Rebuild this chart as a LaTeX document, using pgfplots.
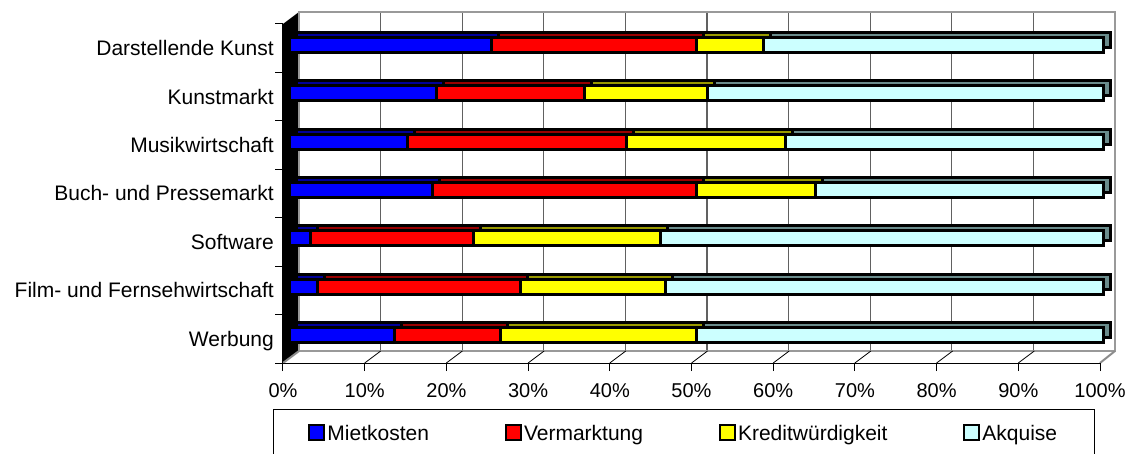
\documentclass[border=0pt]{standalone}
\usepackage{fontspec}
\setmainfont{Liberation Sans}
\usepackage{pgfplots}
\usepackage{pgfplotstable}
\pgfplotsset{compat=1.18}

\definecolor{cMiet}{HTML}{0000FF}
\definecolor{cVerm}{HTML}{FF0000}
\definecolor{cKred}{HTML}{FFFF00}
\definecolor{cAkq}{HTML}{CCFFFF}
% darker tones for the top and side faces
\definecolor{dMiet}{HTML}{000099}
\definecolor{dVerm}{HTML}{990000}
\definecolor{dKred}{HTML}{999900}
\definecolor{dAkq}{HTML}{6A8C8C}

% shares in percent, category 0 = bottom row
\pgfplotstableread{
cat miet verm kred akq
0 13.0 13.0 24.1 49.9
1 3.5 25.0 17.8 53.7
2 2.7 20.0 22.9 54.4
3 17.6 32.4 14.7 35.3
4 14.5 26.9 19.6 39.0
5 18.1 18.2 15.1 48.6
6 24.9 25.1 8.3 41.7
}\anteile

\begin{document}
\begin{tikzpicture}

% black side wall
\fill[black] (283pt,90pt) -- (283pt,429pt) -- (299pt,441pt) -- (299pt,102pt) -- cycle;

% back wall with grid
\begin{axis}[
    at={(299pt,102pt)}, anchor=south west, scale only axis,
    width=816pt, height=339pt,
    xmin=0, xmax=100, ymin=0, ymax=1,
    xtick={0,10,...,100}, xticklabels={}, ytick=\empty,
    major tick length=0pt,
    xmajorgrids, grid style={color=black!62, line width=1.3pt},
    axis line style={color=black!40, line width=2.5pt},
]
\end{axis}

% floor edges
\draw[black!45, line width=2pt] (283pt,90pt) -- (299pt,102pt);
\draw[black!45, line width=2pt] (1100pt,90pt) -- (1115pt,102pt);

% top and side faces of the bars
\begin{axis}[
    at={(296pt,98.5pt)}, anchor=south west, scale only axis,
    width=814pt, height=339pt,
    xmin=0, xmax=100, ymin=-0.5, ymax=6.5,
    xbar stacked, bar width=15pt, clip=false,
    axis line style={draw=none}, ticks=none,
]
\addplot[fill=dMiet, draw=black, line width=3pt] table[x=miet, y=cat] {\anteile};
\addplot[fill=dVerm, draw=black, line width=3pt] table[x=verm, y=cat] {\anteile};
\addplot[fill=dKred, draw=black, line width=3pt] table[x=kred, y=cat] {\anteile};
\addplot[fill=dAkq, draw=black, line width=3pt] table[x=akq, y=cat] {\anteile};
\end{axis}

% front faces of the bars
\begin{axis}[
    at={(289pt,93.5pt)}, anchor=south west, scale only axis,
    width=814pt, height=339pt,
    xmin=0, xmax=100, ymin=-0.5, ymax=6.5,
    xbar stacked, bar width=15pt, clip=false,
    axis line style={draw=none}, ticks=none,
    legend style={
      at={(axis description cs:-0.0197,-0.146)}, anchor=north west,
      draw=black, line width=1pt, inner xsep=35pt, inner ysep=14pt,
      font=\fontsize{21}{24}\selectfont,
      nodes={inner sep=2pt, text height=15pt, text depth=0pt},
      /tikz/every even column/.append style={column sep=74pt},
    },
    legend columns=4,
    legend cell align=left,
    legend image code/.code={\draw[#1, draw=black, line width=2pt] (0pt,-7.5pt) rectangle (15pt,7.5pt);},
]
\addplot[fill=cMiet, draw=black, line width=3pt] table[x=miet, y=cat] {\anteile};
\addplot[fill=cVerm, draw=black, line width=3pt] table[x=verm, y=cat] {\anteile};
\addplot[fill=cKred, draw=black, line width=3pt] table[x=kred, y=cat] {\anteile};
\addplot[fill=cAkq, draw=black, line width=3pt] table[x=akq, y=cat] {\anteile};
\legend{Mietkosten, Vermarktung, Kreditwürdigkeit, Akquise}
\end{axis}

% front axis with ticks and labels
\begin{axis}[
    at={(283pt,90pt)}, anchor=south west, scale only axis,
    width=817pt, height=339pt,
    xmin=0, xmax=100, ymin=-0.5, ymax=6.5,
    axis x line*=bottom, axis y line*=left,
    axis line style={black, line width=1pt},
    tick style={black, line width=1pt},
    tick align=outside, major tick length=8pt,
    xtick={0,10,...,100},
    xticklabels={0\%,10\%,20\%,30\%,40\%,50\%,60\%,70\%,80\%,90\%,100\%},
    xticklabel style={font=\fontsize{20}{24}\selectfont, anchor=base, inner sep=0pt, yshift=-26pt},
    ytick={-0.5,0.5,...,6.5},
    y tick label as interval,
    yticklabels={Werbung, Film- und Fernsehwirtschaft, Software, Buch- und Pressemarkt, Musikwirtschaft, Kunstmarkt, Darstellende Kunst},
    yticklabel style={font=\fontsize{21}{24}\selectfont, anchor=east, inner sep=0pt, xshift=-1pt, text height=15pt, text depth=0pt},
]
\pgfplotsinvokeforeach{10,20,...,90}{
  \draw[black, line width=0.8pt] (axis cs:#1,-0.5) -- ++(16pt,12pt);
}
\end{axis}

% page size of the reference
\pgfresetboundingbox
\path[use as bounding box] (0pt,0pt) rectangle (1130pt,453pt);
\end{tikzpicture}
\end{document}
